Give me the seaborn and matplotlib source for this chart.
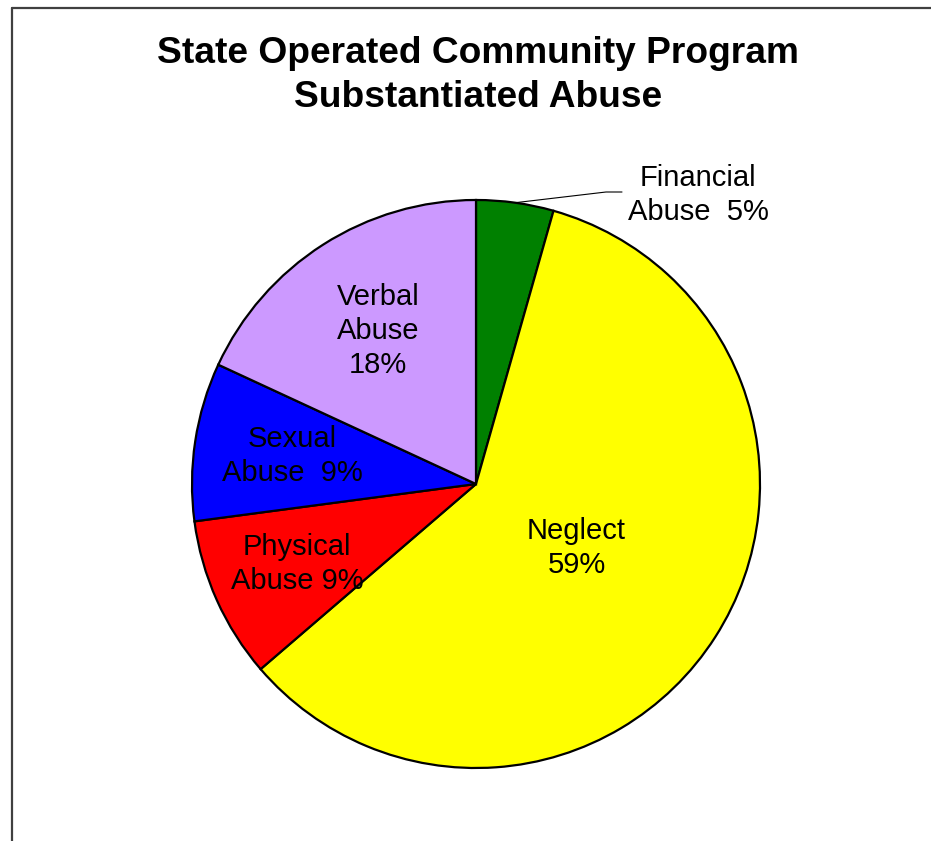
import numpy as np
import matplotlib
matplotlib.use("Agg")
import matplotlib.pyplot as plt
import seaborn as sns
from matplotlib.lines import Line2D

# data (share of substantiated abuse, %)
categorias = ["Financial\nAbuse  5%", "Neglect\n59%", "Physical\nAbuse 9%", "Sexual\nAbuse  9%", "Verbal\nAbuse\n18%"]
valores = [4.4, 59.3, 9.2, 9.0, 18.1]
cores = ["#008000", "#FFFF00", "#FF0000", "#0000FF", "#CC99FF"]

sns.set_theme(style="white")
plt.rcParams["font.family"] = ["Liberation Sans", "DejaVu Sans"]

W, H = 931, 841
fig = plt.figure(figsize=(W / 100, H / 100), dpi=100)

# pie centre and radius in pixels
cx, cy, r = 476, 484, 284
pad = 300
ax = fig.add_axes([(cx - pad) / W, (H - cy - pad) / H, 2 * pad / W, 2 * pad / H])

wedges, _ = ax.pie(valores, colors=cores, startangle=90, counterclock=False,
                   wedgeprops=dict(edgecolor="black", linewidth=1.6))
lim = pad / r
ax.set_xlim(-lim, lim)
ax.set_ylim(-lim, lim)
ax.axis("off")

# labels inside the slices, at the middle angle of each wedge
dist = [None, 0.42, 0.69, 0.655, 0.64]
for w, lab, d in zip(wedges, categorias, dist):
    if d is None:
        continue
    ang = np.deg2rad((w.theta1 + w.theta2) / 2)
    ax.text(d * np.cos(ang), d * np.sin(ang), lab, ha="center", va="center",
            fontsize=21, color="black", linespacing=1.28)

# financial label outside with leader line
w = wedges[0]
ang = np.deg2rad((w.theta1 + w.theta2) / 2)
x0, y0 = np.cos(ang), np.sin(ang)
ax.plot([x0, 130 / r, 146 / r], [y0, 292 / r, 292 / r], color="black", lw=0.8, clip_on=False)
ax.text(222 / r, 289 / r, categorias[0], ha="center", va="center",
        fontsize=21, color="black", linespacing=1.28)

fig.text(478 / W, 1 - 75.5 / H, "State Operated Community Program\nSubstantiated Abuse",
         ha="center", va="center", fontsize=26.7, fontweight="bold", color="black",
         linespacing=1.31)

# chart area border (only left and top show in the crop)
fig.add_artist(Line2D([11.5 / W, 11.5 / W], [0, 1 - 8 / H], color="#404040", lw=1.6))
fig.add_artist(Line2D([11.5 / W, 1], [1 - 8 / H, 1 - 8 / H], color="#404040", lw=1.6))

fig.savefig("out.png", dpi=100)
